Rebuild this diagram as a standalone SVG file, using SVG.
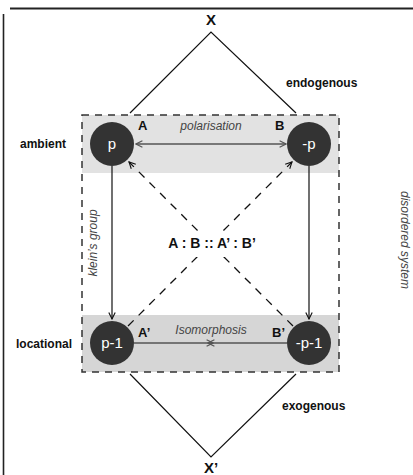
<svg xmlns="http://www.w3.org/2000/svg" width="413" height="475" viewBox="0 0 413 475">
<defs>
<style>
.lbl{font-family:"Liberation Sans",Arial,sans-serif;font-weight:bold;font-size:12px;fill:#111}
.it{font-family:"Liberation Sans",Arial,sans-serif;font-style:italic;font-size:12px;fill:#444}
.nt{font-family:"Liberation Sans",Arial,sans-serif;font-size:15px;fill:#fff;text-anchor:middle}
.node{fill:#333}
.solid{stroke:#111;stroke-width:1.2;fill:none}
.gray{stroke:#555;stroke-width:1.5;fill:none}
.dash{stroke:#111;stroke-width:1.3;stroke-dasharray:8,7;fill:none}
</style>
<marker id="ah" viewBox="0 0 10 10" refX="9" refY="5" markerWidth="8" markerHeight="8" markerUnits="userSpaceOnUse" orient="auto">
<path d="M1,1 L9,5 L1,9" fill="none" stroke="#111" stroke-width="1.4"/>
</marker>
<marker id="ahg" viewBox="0 0 10 10" refX="9" refY="5" markerWidth="8" markerHeight="8" markerUnits="userSpaceOnUse" orient="auto-start-reverse">
<path d="M1,1 L9,5 L1,9" fill="none" stroke="#555" stroke-width="1.4"/>
</marker>
</defs>
<rect width="413" height="475" fill="#fff"/>
<g id="frame">
<line x1="10" y1="8.5" x2="413" y2="8.5" stroke="#222" stroke-width="2"/>
<line x1="3.5" y1="14" x2="3.5" y2="475" stroke="#222" stroke-width="1.6"/>
</g>
<g id="bands">
<rect x="82" y="115" width="257" height="58" fill="#e2e2e2"/>
<rect x="82" y="315" width="257" height="57" fill="#d6d6d6"/>
<rect x="82" y="115" width="257" height="257" fill="none" stroke="#333" stroke-width="1.5" stroke-dasharray="7,6"/>
</g>
<g id="connectors">
<polyline class="solid" points="130,113 211,32 296,113"/>
<polyline class="solid" points="130,374 211,457 296,374"/>
<line class="solid" x1="112" y1="166" x2="112" y2="319" marker-end="url(#ah)"/>
<line class="solid" x1="309" y1="166" x2="309" y2="319" marker-end="url(#ah)"/>
<line class="dash" x1="128" y1="326" x2="292" y2="162" marker-end="url(#ah)"/>
<line class="dash" x1="293" y1="326" x2="129" y2="162" marker-end="url(#ah)"/>
<line class="gray" x1="136" y1="144" x2="286" y2="144" marker-start="url(#ahg)" marker-end="url(#ahg)"/>
<line class="gray" x1="134" y1="343" x2="213" y2="343" marker-end="url(#ahg)"/>
<line class="gray" x1="287" y1="343" x2="208" y2="343" marker-end="url(#ahg)"/>
</g>
<g id="center-label">
<rect x="166" y="231" width="90" height="26" fill="#fff"/>
<text class="lbl" x="212" y="248" font-size="14" text-anchor="middle" style="font-size:14px">A : B :: A’ : B’</text>
</g>
<g id="node-X"><text class="lbl" x="211" y="25" text-anchor="middle" style="font-size:15px">X</text></g>
<g id="node-Xp"><text class="lbl" x="211" y="473" text-anchor="middle" style="font-size:15px">X’</text></g>
<g id="node-p"><circle class="node" cx="112" cy="144" r="22"/><text class="nt" x="112" y="149">p</text></g>
<g id="node-np"><circle class="node" cx="309" cy="144" r="22"/><text class="nt" x="309" y="149">-p</text></g>
<g id="node-p1"><circle class="node" cx="112" cy="343" r="22"/><text class="nt" x="112" y="348">p-1</text></g>
<g id="node-np1"><circle class="node" cx="309" cy="343" r="22"/><text class="nt" x="309" y="348">-p-1</text></g>
<g id="labels">
<text class="lbl" x="138" y="130" style="font-size:13px">A</text>
<text class="lbl" x="275" y="130" style="font-size:13px">B</text>
<text class="lbl" x="138" y="337" style="font-size:13px">A’</text>
<text class="lbl" x="272" y="337" style="font-size:13px">B’</text>
<text class="it" x="211" y="130" text-anchor="middle">polarisation</text>
<text class="it" x="211" y="334" text-anchor="middle">Isomorphosis</text>
<text class="lbl" x="20" y="148">ambient</text>
<text class="lbl" x="16" y="348">locational</text>
<text class="lbl" x="286" y="87">endogenous</text>
<text class="lbl" x="282" y="410">exogenous</text>
<text class="it" transform="translate(97,243) rotate(-90)" text-anchor="middle">klein’s group</text>
<text class="it" transform="translate(401,240) rotate(90)" text-anchor="middle">disordered system</text>
</g>
</svg>
